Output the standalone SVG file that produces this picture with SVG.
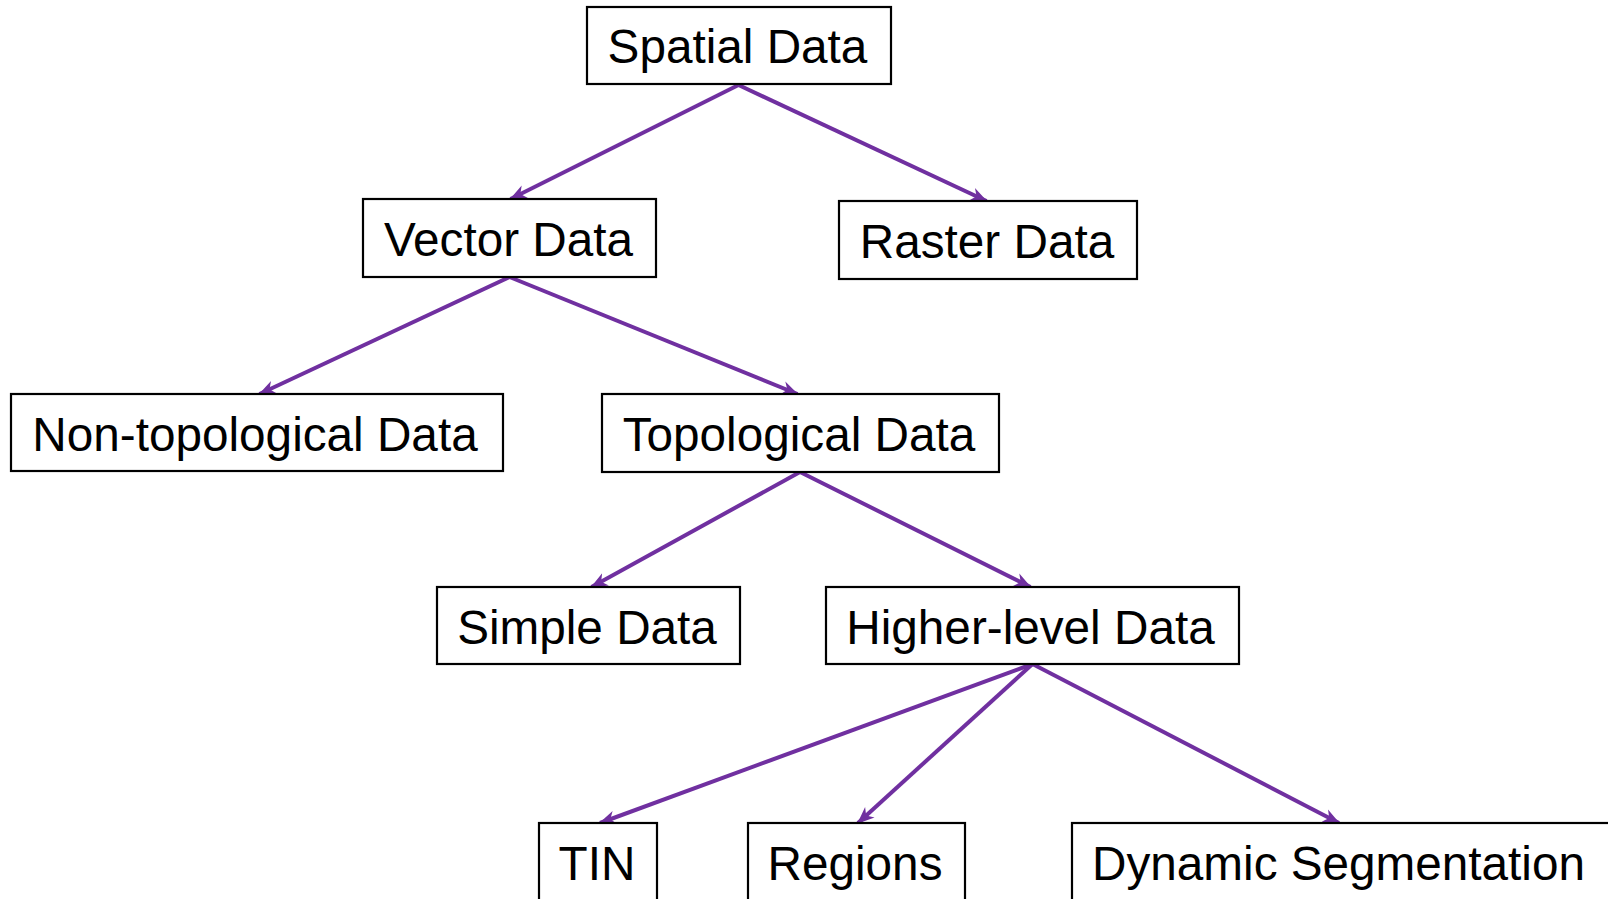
<svg xmlns="http://www.w3.org/2000/svg" width="1608" height="899" viewBox="0 0 1608 899">
<style>
.box{fill:#fff;stroke:#000;stroke-width:2.2}
.lbl{font-family:"Liberation Sans",Arial,sans-serif;font-size:47.7px;fill:#000;text-anchor:middle}
.edge{stroke:#7030A0;stroke-width:4;fill:none;marker-end:url(#ah)}
</style>
<defs>
<marker id="ah" markerUnits="userSpaceOnUse" markerWidth="18" markerHeight="16" viewBox="0 0 18 16" refX="16" refY="8" orient="auto">
<path d="M0,1 L17,8 L0,15 L5,8 Z" fill="#7030A0"/>
</marker>
</defs>
<rect width="1608" height="899" fill="#fff"/>
<g id="connectors">
<line class="edge" x1="738.5" y1="85" x2="510.5" y2="199"/>
<line class="edge" x1="738.5" y1="85" x2="986.5" y2="201"/>
<line class="edge" x1="509.5" y1="277" x2="259.5" y2="394"/>
<line class="edge" x1="509.5" y1="277" x2="797.5" y2="394"/>
<line class="edge" x1="800" y1="472" x2="591.5" y2="587"/>
<line class="edge" x1="800" y1="472" x2="1030.5" y2="587"/>
<line class="edge" x1="1032.5" y1="664" x2="600" y2="823"/>
<line class="edge" x1="1032.5" y1="664" x2="858" y2="823"/>
<line class="edge" x1="1032.5" y1="664" x2="1339" y2="823"/>
</g>
<g id="spatial"><rect class="box" x="587" y="7" width="304" height="77"/><text class="lbl" x="737.5" y="63">Spatial Data</text></g>
<g id="vector"><rect class="box" x="363" y="199" width="293" height="78"/><text class="lbl" x="508.5" y="256">Vector Data</text></g>
<g id="raster"><rect class="box" x="839" y="201" width="298" height="78"/><text class="lbl" x="987" y="258">Raster Data</text></g>
<g id="nontopo"><rect class="box" x="11" y="394" width="492" height="77"/><text class="lbl" x="255" y="450.5">Non-topological Data</text></g>
<g id="topo"><rect class="box" x="602" y="394" width="397" height="78"/><text class="lbl" x="799" y="451">Topological Data</text></g>
<g id="simple"><rect class="box" x="437" y="587" width="303" height="77"/><text class="lbl" x="587" y="643.5">Simple Data</text></g>
<g id="higher"><rect class="box" x="826" y="587" width="413" height="77"/><text class="lbl" x="1030.5" y="643.5">Higher-level Data</text></g>
<g id="tin"><rect class="box" x="539" y="823" width="118" height="90"/><text class="lbl" x="597" y="880">TIN</text></g>
<g id="regions"><rect class="box" x="748" y="823" width="217" height="90"/><text class="lbl" x="855" y="880">Regions</text></g>
<g id="dynamic"><rect class="box" x="1072" y="823" width="560" height="90"/><text class="lbl" x="1092" y="880" style="text-anchor:start">Dynamic Segmentation</text></g>
</svg>
